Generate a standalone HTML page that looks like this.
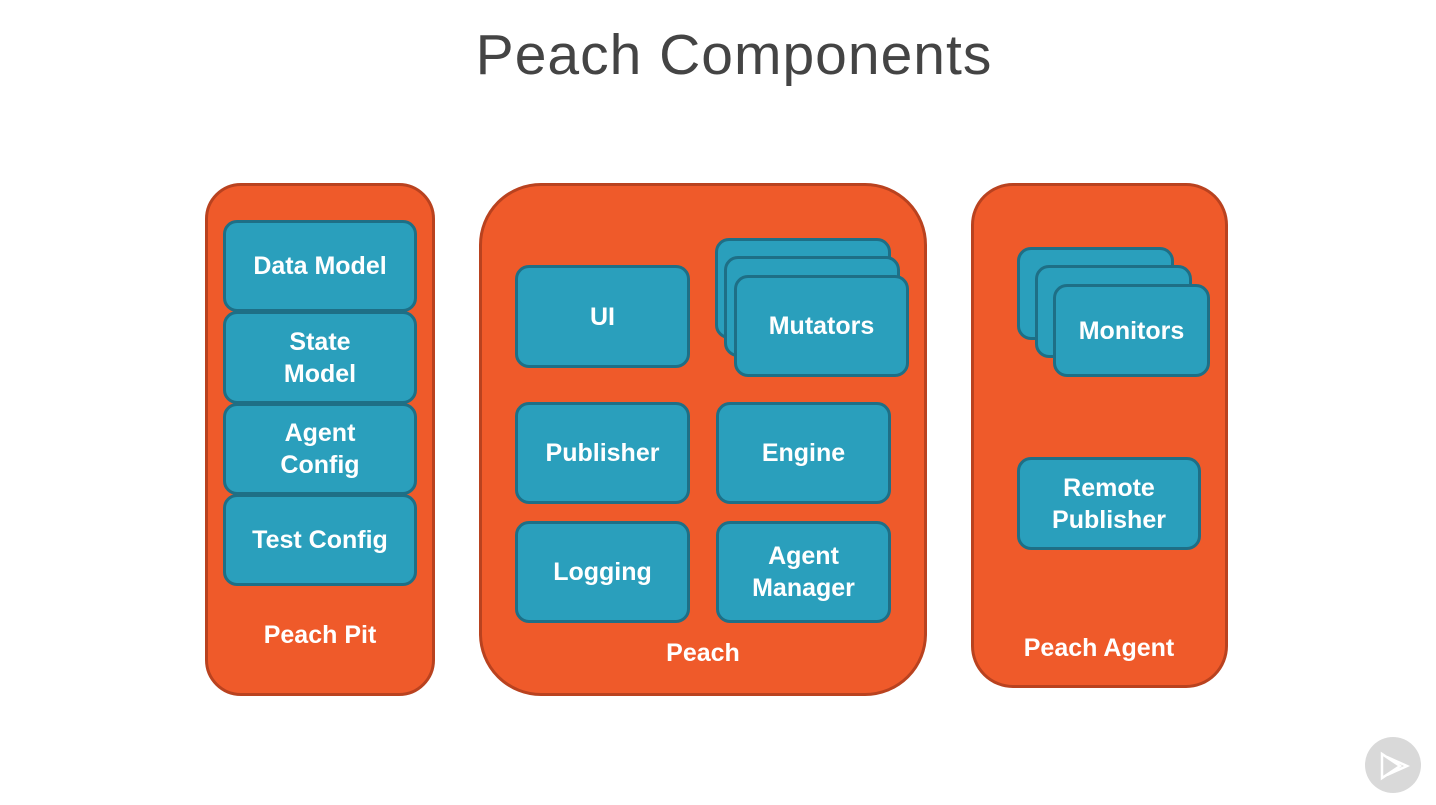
<!DOCTYPE html>
<html><head><style>
body{margin:0;width:1436px;height:805px;background:#fff;position:relative;overflow:hidden;font-family:"Liberation Sans",sans-serif}
.o{position:absolute;background:#ef5a2a;border:3px solid #b9421f;box-sizing:border-box}
.b{position:absolute;background:#2a9fbc;border:3px solid #1e6f86;border-radius:14px;box-sizing:border-box;color:#fff;font-size:25px;font-weight:bold;display:flex;align-items:center;justify-content:center;text-align:center;line-height:32px}
.l{position:absolute;color:#fff;font-size:25px;font-weight:bold;text-align:center;transform:translateX(-50%);white-space:nowrap}
</style></head><body>
<div style="position:absolute;left:16px;width:1436px;top:22px;text-align:center;font-size:57px;color:#444;font-weight:300;letter-spacing:1px">Peach Components</div>

<div class="o" style="left:205px;top:183px;width:230px;height:513px;border-radius:36px"></div>
<div class="b" style="left:223px;top:220px;width:194px;height:92px">Data Model</div>
<div class="b" style="left:223px;top:311px;width:194px;height:93px">State<br>Model</div>
<div class="b" style="left:223px;top:403px;width:194px;height:92px">Agent<br>Config</div>
<div class="b" style="left:223px;top:494px;width:194px;height:92px">Test Config</div>
<div class="l" style="left:320px;top:621px">Peach Pit</div>

<div class="o" style="left:479px;top:183px;width:448px;height:513px;border-radius:62px"></div>
<div class="b" style="left:515px;top:265px;width:175px;height:103px">UI</div>
<div class="b" style="left:715px;top:238px;width:176px;height:101px"></div>
<div class="b" style="left:724px;top:256px;width:176px;height:101px"></div>
<div class="b" style="left:734px;top:275px;width:175px;height:102px">Mutators</div>
<div class="b" style="left:515px;top:402px;width:175px;height:102px">Publisher</div>
<div class="b" style="left:716px;top:402px;width:175px;height:102px">Engine</div>
<div class="b" style="left:515px;top:521px;width:175px;height:102px">Logging</div>
<div class="b" style="left:716px;top:521px;width:175px;height:102px">Agent<br>Manager</div>
<div class="l" style="left:703px;top:639px">Peach</div>

<div class="o" style="left:971px;top:183px;width:257px;height:505px;border-radius:42px"></div>
<div class="b" style="left:1017px;top:247px;width:157px;height:93px"></div>
<div class="b" style="left:1035px;top:265px;width:157px;height:93px"></div>
<div class="b" style="left:1053px;top:284px;width:157px;height:93px">Monitors</div>
<div class="b" style="left:1017px;top:457px;width:184px;height:93px">Remote<br>Publisher</div>
<div class="l" style="left:1099px;top:634px">Peach Agent</div>

<svg style="position:absolute;left:1365px;top:737px" width="58" height="58">
<circle cx="28" cy="28" r="28" fill="#d9d9d9"/>
<path d="M17 17 L17 41 L35 29 Z M22 20 L42 29 L22 38" fill="none" stroke="#fff" stroke-width="2.5"/>
</svg>
</body></html>
